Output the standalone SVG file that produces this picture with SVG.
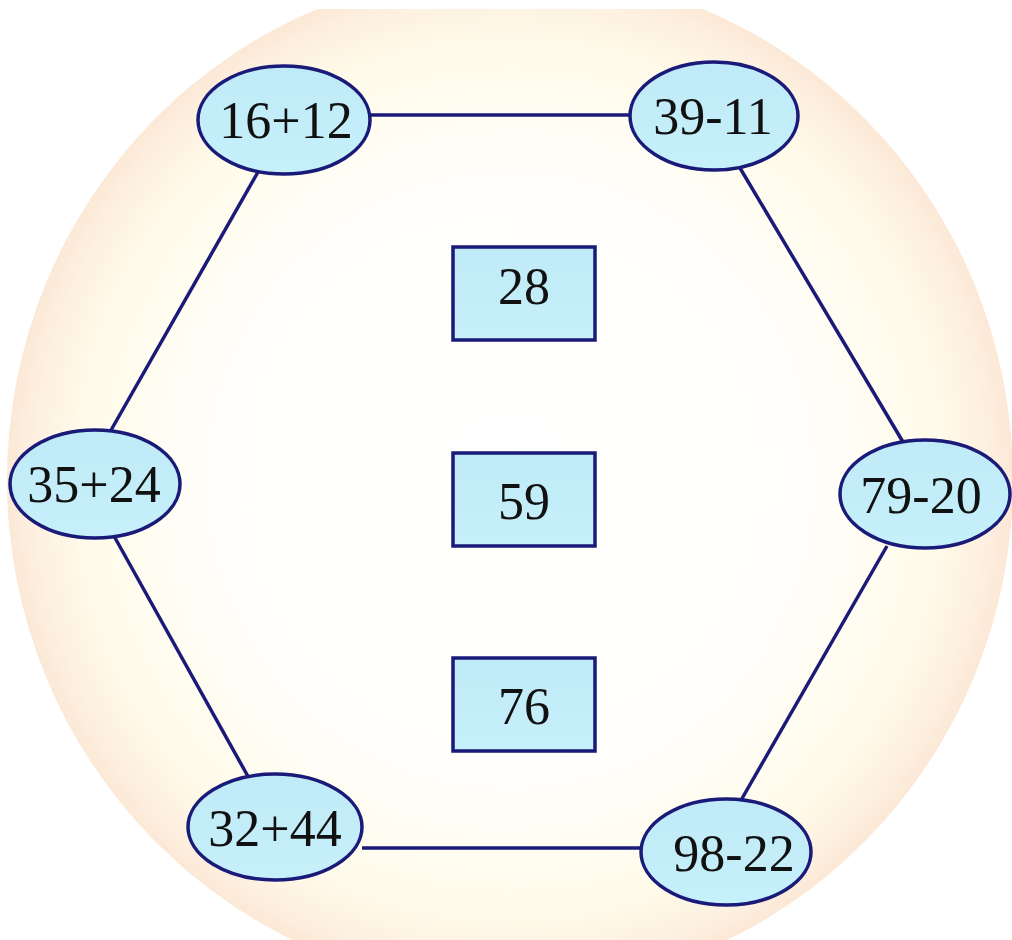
<svg xmlns="http://www.w3.org/2000/svg" width="1012" height="940" viewBox="0 0 1012 940">
<style>
.node{fill:url(#cy);stroke:#1a1a78;stroke-width:3.5}
.lbl{font-family:"Liberation Serif","Times New Roman",serif;font-size:52px;fill:#111;text-anchor:middle}
.conn line{stroke:#1a1a78;stroke-width:3.5}
</style>
<defs>
<radialGradient id="bg" cx="0.5" cy="0.5" r="0.5">
<stop offset="0" stop-color="#ffffff"/>
<stop offset="0.6" stop-color="#fffefa"/>
<stop offset="0.85" stop-color="#fffbea"/>
<stop offset="0.95" stop-color="#fdf0e0"/>
<stop offset="1" stop-color="#fce8d6"/>
</radialGradient>
<linearGradient id="cy" x1="0" y1="0" x2="0" y2="1">
<stop offset="0" stop-color="#bfeaf7"/>
<stop offset="1" stop-color="#c6f0fa"/>
</linearGradient>
<clipPath id="cut"><rect x="0" y="9" width="1012" height="931"/></clipPath>
</defs>
<rect width="1012" height="940" fill="#ffffff"/>
<ellipse cx="510" cy="480" rx="503" ry="510" fill="url(#bg)" clip-path="url(#cut)"/>
<g class="conn">
<line x1="370" y1="115" x2="632" y2="115"/>
<line x1="258" y1="172" x2="110" y2="432"/>
<line x1="740" y1="168" x2="903" y2="442"/>
<line x1="887" y1="546" x2="740" y2="802"/>
<line x1="114" y1="536" x2="250" y2="780"/>
<line x1="362" y1="848" x2="641" y2="848"/>
</g>
<g id="n1"><ellipse class="node" cx="284" cy="120" rx="86" ry="54"/><text class="lbl" x="286" y="138">16+12</text></g>
<g id="n2"><ellipse class="node" cx="714" cy="116" rx="84" ry="54"/><text class="lbl" x="713" y="134">39-11</text></g>
<g id="n3"><ellipse class="node" cx="95" cy="484" rx="85" ry="54"/><text class="lbl" x="94" y="502">35+24</text></g>
<g id="n4"><ellipse class="node" cx="925" cy="494" rx="85" ry="54"/><text class="lbl" x="921" y="513">79-20</text></g>
<g id="n5"><ellipse class="node" cx="275" cy="827" rx="87" ry="53"/><text class="lbl" x="275" y="846">32+44</text></g>
<g id="n6"><ellipse class="node" cx="726" cy="852" rx="85" ry="53"/><text class="lbl" x="734" y="871">98-22</text></g>
<g id="b1"><rect class="node" x="453" y="247" width="142" height="93"/><text class="lbl" x="524" y="304">28</text></g>
<g id="b2"><rect class="node" x="453" y="453" width="142" height="93"/><text class="lbl" x="524" y="519">59</text></g>
<g id="b3"><rect class="node" x="453" y="658" width="142" height="93"/><text class="lbl" x="524" y="724">76</text></g>
</svg>
